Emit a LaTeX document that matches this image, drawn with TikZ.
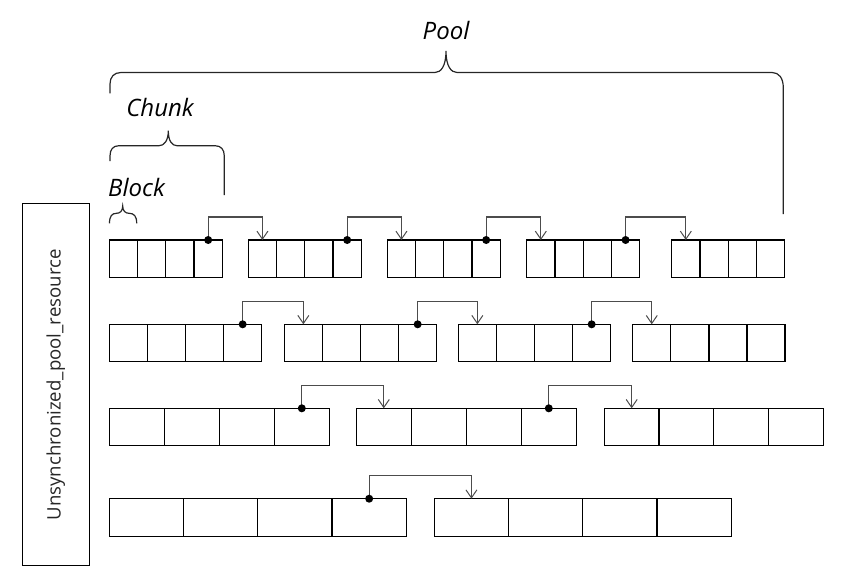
\documentclass[tikz,border=0pt]{standalone}
\usepackage{fontspec}
\newfontfamily\handfont{Open Sans}
\newfontfamily\labfont{Open Sans}
\usetikzlibrary{arrows.meta}
\newcommand\mkchunk[5]{% name, x, y, block width, height
  \foreach \i in {1,...,4}{
    \node[blockbox, minimum width=#4pt, minimum height=#5pt, anchor=north west]
      (#1-\i) at ({#2+(\i-1)*#4}, #3) {};
  }}
\newcommand\mklink[2]{%
  \draw[link] (#1.north) -- ++(0,23pt) -| (#2.north);
  \fill[dotc] (#1.north) circle[radius=4pt];}
\begin{document}
\begin{tikzpicture}[x=1pt,y=-1pt,
  blockbox/.style={draw=black, line width=1.3pt, inner sep=0pt, outer sep=0pt},
  link/.style={draw=black!70, line width=1.2pt, -{Straight Barb[length=8pt,width=11pt,line width=1pt]}},
  dotc/.style={fill=black},
  bracel/.style={draw=black!85, line width=1.2pt},
  handlab/.style={font=\handfont\itshape\fontsize{24}{28}\selectfont, inner sep=0pt},
  reslab/.style={draw=black, line width=1.2pt, inner sep=0pt, rotate=90,
    minimum width=362pt, minimum height=67pt, font=\labfont\fontsize{18.6}{22}\selectfont, text=black!85}]
\useasboundingbox (0,0) rectangle (846,582);

% resource box
\node[reslab] (res) at (55.7,384.8) {Unsynchronized\_pool\_resource};

% row 1
\mkchunk{r1a}{109.3}{240}{28.25}{37.5}
\mkchunk{r1b}{248.3}{240}{28.25}{37.5}
\mkchunk{r1c}{387.3}{240}{28.25}{37.5}
\mkchunk{r1d}{526.7}{240}{28.25}{37.5}
\mkchunk{r1e}{671.7}{240}{28.25}{37.5}
\mklink{r1a-4}{r1b-1}
\mklink{r1b-4}{r1c-1}
\mklink{r1c-4}{r1d-1}
\mklink{r1d-4}{r1e-1}

% row 2
\mkchunk{r2a}{109.3}{324.3}{38.1}{37.5}
\mkchunk{r2b}{284.3}{324.3}{38.1}{37.5}
\mkchunk{r2c}{458.3}{324.3}{38.1}{37.5}
\mkchunk{r2d}{632.7}{324.3}{38.1}{37.5}
\mklink{r2a-4}{r2b-1}
\mklink{r2b-4}{r2c-1}
\mklink{r2c-4}{r2d-1}

% row 3
\mkchunk{r3a}{109.3}{408.3}{55}{37}
\mkchunk{r3b}{356.3}{408.3}{55}{37}
\mkchunk{r3c}{604.3}{408.3}{54.75}{37}
\mklink{r3a-4}{r3b-1}
\mklink{r3b-4}{r3c-1}

% row 4
\mkchunk{r4a}{109.3}{498.7}{74.25}{37.6}
\mkchunk{r4b}{434.3}{498.7}{74.25}{37.6}
\mklink{r4a-4}{r4b-1}

% braces
\draw[bracel] (110,93.3) -- (110,84) .. controls (110,77) and (114,72.5) .. (121,72.5)
  -- (435,72.5) .. controls (441,72.5) and (446,66) .. (446,51)
  .. controls (446,66) and (451,72.5) .. (457,72.5)
  -- (772,72.5) .. controls (779,72.5) and (783.3,78) .. (783.3,88) -- (783.3,214);
\draw[bracel] (110,161) -- (110,156) .. controls (110,149.5) and (113,145.7) .. (119,145.7)
  -- (159,145.7) .. controls (164,145.7) and (168.3,141) .. (168.3,130.7)
  .. controls (168.3,141) and (172,145.7) .. (177,145.7)
  -- (215,145.7) .. controls (221,145.7) and (224.3,149.5) .. (224.3,156) -- (224.3,195);
\draw[bracel] (109.5,223.3) .. controls (109.5,216) and (112,213.3) .. (116.5,213.3)
  .. controls (120,213.3) and (122.7,211) .. (122.7,206)
  .. controls (122.7,211) and (125.5,213.3) .. (129,213.3)
  .. controls (134,213.3) and (136.7,216) .. (136.7,223.3);

% labels
\node[handlab, anchor=base] (pool) at (446,39.3) {Pool};
\node[handlab, anchor=base] (chunk) at (160,116.7) {Chunk};
\node[handlab, anchor=base west] (block) at (108,196) {Block};
\end{tikzpicture}
\end{document}
